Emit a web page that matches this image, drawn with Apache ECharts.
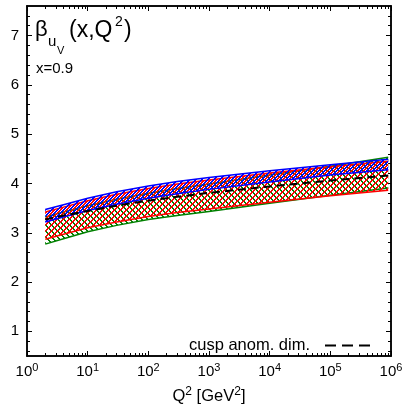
<!DOCTYPE html>
<html><head><meta charset="utf-8">
<script src="https://cdn.jsdelivr.net/npm/echarts@6/dist/echarts.min.js"></script>
<style>html,body{margin:0;padding:0;background:#fff}#c{width:406px;height:410px}</style>
</head><body><div id="c"></div>
<script>
// ---- data ----
const q2      = [2,    4,    10,   30,   100,  300,  1000, 1e4,  1e5,  9e5];
const cusp    = [3.27, 3.35, 3.44, 3.55, 3.65, 3.73, 3.81, 3.94, 4.06, 4.16];
const blueHi  = [3.47, 3.57, 3.70, 3.83, 3.95, 4.04, 4.12, 4.26, 4.38, 4.49];
const blueLo  = [3.22, 3.32, 3.45, 3.58, 3.70, 3.79, 3.88, 4.03, 4.17, 4.28];
const redHi   = [3.42, 3.52, 3.65, 3.78, 3.90, 3.99, 4.07, 4.21, 4.34, 4.45];
const redLo   = [2.87, 2.97, 3.10, 3.22, 3.33, 3.41, 3.48, 3.62, 3.75, 3.86];
const greenHi = [3.32, 3.42, 3.55, 3.68, 3.80, 3.90, 3.99, 4.17, 4.35, 4.53];
const greenLo = [2.77, 2.88, 3.02, 3.15, 3.27, 3.35, 3.43, 3.60, 3.76, 3.91];
const xTickLabels = [1, 10, 100, 1000, 1e4, 1e5, 1e6];
const yTickLabels = [1, 2, 3, 4, 5, 6, 7];
const legendName = 'cusp anom. dim.';

const FONT = '"Liberation Sans", Arial, Helvetica, sans-serif';
const xMinor = [];
for (let d = 0; d < 6; d++) for (let k = 2; k <= 9; k++) xMinor.push(k * Math.pow(10, d));
const yMinor = [];
for (let v = 6; v <= 74; v += 2) if (v % 10 !== 0) yMinor.push(v / 10);

// crisp 2-px diagonal hatch tile
function hatch(color, dir, off) {
  const n = 6;
  const c = document.createElement('canvas');
  c.width = n; c.height = n;
  const g = c.getContext('2d');
  g.fillStyle = color;
  for (let i = 0; i < n; i++) {
    for (let w = 0; w < 2; w++) {
      const x = dir > 0 ? (n - 1 - i + off + w) % n : (i + off + w) % n;
      g.fillRect(x, i, 1, 1);
    }
  }
  return c;
}

const pair = (arr) => arr.map((v, i) => [q2[i], v]);

function band(name, hi, lo, color, dir, off) {
  const pat = hatch(color, dir, off);
  return {
    name: name, type: 'custom', silent: true, z: 2,
    data: q2.map((x, i) => [x, lo[i], hi[i]]),
    encode: { x: 0, y: [1, 2] },
    renderItem: (params, api) => {
      if (params.dataIndex !== 0) return null;
      const up = hi.map((v, i) => api.coord([q2[i], v]));
      const dn = lo.map((v, i) => api.coord([q2[i], v]));
      const poly = up.concat(dn.slice().reverse());
      return {
        type: 'group',
        children: [
          { type: 'polygon', shape: { points: poly }, style: { fill: { image: pat, repeat: 'repeat' }, stroke: null } },
          { type: 'polyline', shape: { points: up }, style: { stroke: color, lineWidth: 1.5, fill: null } },
          { type: 'polyline', shape: { points: dn }, style: { stroke: color, lineWidth: 1.5, fill: null } }
        ]
      };
    }
  };
}

const axisLineStyle = { show: true, lineStyle: { color: '#000', width: 1.5 } };
const richLbl = {
  b: { fontSize: 15, fontFamily: FONT, color: '#000' },
  s: { fontSize: 11, fontFamily: FONT, color: '#000', padding: [0, 0, 9, 0] }
};
const richName = {
  b: { fontSize: 16.5, fontFamily: FONT, color: '#000' },
  s: { fontSize: 12, fontFamily: FONT, color: '#000', padding: [0, 0, 9, 0] }
};
function xAx(pos, major, showLabel) {
  return {
    type: 'log', logBase: 10, min: 1, max: 1e6, position: pos, gridIndex: 0,
    axisLine: axisLineStyle,
    axisTick: { show: true, inside: true, length: major ? 5 : 3, customValues: major ? xTickLabels : xMinor,
      lineStyle: { color: '#000', width: 1 } },
    axisLabel: showLabel ? {
      show: true, customValues: xTickLabels, margin: 6,
      formatter: (v) => '{b|10}{s|' + Math.round(Math.log10(v)) + '}',
      rich: richLbl
    } : { show: false },
    splitLine: { show: false },
    name: showLabel ? '{b|Q}{s|2}{b| [GeV}{s|2}{b|]}' : '',
    nameLocation: 'middle', nameGap: 30,
    nameTextStyle: { rich: richName }
  };
}
function yAx(pos, major, showLabel) {
  return {
    type: 'value', min: 0.5, max: 7.6, position: pos, gridIndex: 0,
    axisLine: axisLineStyle,
    axisTick: { show: true, inside: true, length: major ? 5 : 3, customValues: major ? yTickLabels : yMinor,
      lineStyle: { color: '#000', width: 1 } },
    axisLabel: showLabel ? { show: true, customValues: yTickLabels, margin: 8, fontSize: 15, fontFamily: FONT, color: '#000' } : { show: false },
    splitLine: { show: false }
  };
}

const chart = echarts.init(document.getElementById('c'), null, { renderer: 'canvas' });
chart.setOption({
  animation: false,
  backgroundColor: '#fff',
  grid: { left: 27, right: 15, top: 6, bottom: 53, containLabel: false },
  xAxis: [xAx('bottom', true, true), xAx('bottom', false, false), xAx('top', true, false), xAx('top', false, false)],
  yAxis: [yAx('left', true, true), yAx('left', false, false), yAx('right', true, false), yAx('right', false, false)],
  legend: {
    data: [legendName], right: 30, top: 332, align: 'right', itemWidth: 45, itemHeight: 14,
    lineStyle: { color: '#000', width: 2, type: [11, 6] },
    itemStyle: { opacity: 0, color: 'transparent', borderWidth: 0 },
    textStyle: { fontSize: 16.5, fontFamily: FONT, color: '#000', padding: [0, 10, 0, 0] },
    selectedMode: false
  },
  graphic: [
    { type: 'text', left: 35, top: 19, style: { text: 'β', font: '22px ' + FONT, fill: '#000' } },
    { type: 'text', left: 48, top: 34, style: { text: 'u', font: '15px ' + FONT, fill: '#000' } },
    { type: 'text', left: 57, top: 45, style: { text: 'V', font: '11px ' + FONT, fill: '#000' } },
    { type: 'text', left: 69, top: 19, style: { text: '(x,Q', font: '23px ' + FONT, fill: '#000' } },
    { type: 'text', left: 115, top: 15, style: { text: '2', font: '14px ' + FONT, fill: '#000' } },
    { type: 'text', left: 124, top: 19, style: { text: ')', font: '23px ' + FONT, fill: '#000' } },
    { type: 'text', left: 36, top: 61, style: { text: 'x=0.9', font: '15px ' + FONT, fill: '#000' } }
  ],
  series: [
    band('green', greenHi, greenLo, '#008000', -1, 0),
    band('red', redHi, redLo, '#ff0000', 1, 0),
    band('blue', blueHi, blueLo, '#0000ff', 1, 3),
    { name: legendName, type: 'line', data: pair(cusp), symbol: 'none', color: '#000',
      lineStyle: { color: '#000', width: 2, type: [8, 5] }, z: 5 }
  ]
});
</script></body></html>
